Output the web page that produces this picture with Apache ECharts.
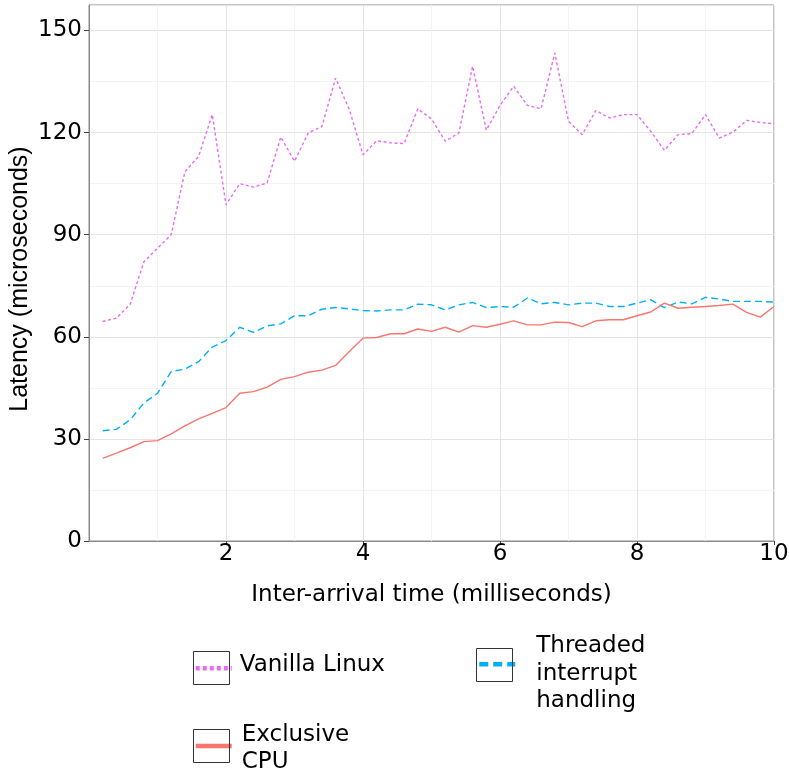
<!DOCTYPE html>
<html>
<head>
<meta charset="utf-8">
<script src="https://cdn.jsdelivr.net/npm/echarts@6/dist/echarts.min.js"></script>
<style>html,body{margin:0;padding:0;background:#fff;}#c{width:789px;height:769px;}</style>
</head>
<body>
<div id="c"></div>
<script>
const xValues = [0.2,0.4,0.6,0.8,1.0,1.2,1.4,1.6,1.8,2.0,2.2,2.4,2.6,2.8,3.0,3.2,3.4,3.6,3.8,4.0,4.2,4.4,4.6,4.8,5.0,5.2,5.4,5.6,5.8,6.0,6.2,6.4,6.6,6.8,7.0,7.2,7.4,7.6,7.8,8.0,8.2,8.4,8.6,8.8,9.0,9.2,9.4,9.6,9.8,10.0];
const vanillaLinux = [64.5,65.5,69.5,82,86,90,108.5,113,125.3,98.8,105,104,105.2,118.7,111.6,119.9,121.8,136,126.8,113.5,117.6,117,116.8,127,124,117.5,119.9,139.5,120.7,128,133.6,128,127,143.4,123.3,119.4,126.5,124.3,125.3,125.3,120.4,114.8,119.4,119.7,125.3,118.4,120.1,123.6,123,122.6];
const threadedIrq = [32.4,32.8,35.6,40.5,43.4,49.8,50.5,52.7,57,58.9,62.8,61.3,63.2,63.8,66.2,66.2,68.1,68.6,68.2,67.7,67.6,67.9,67.9,69.6,69.4,67.9,69.4,70.1,68.6,68.9,68.7,71.4,69.7,70.1,69.4,69.9,69.9,68.9,68.9,69.9,70.9,68.6,70.2,69.7,71.6,71.1,70.4,70.4,70.4,70.2];
const exclusiveCpu = [24.3,25.8,27.4,29.2,29.5,31.5,33.8,35.9,37.5,39.2,43.4,43.9,45.2,47.5,48.3,49.6,50.2,51.6,55.7,59.6,59.8,60.9,60.9,62.3,61.6,62.8,61.4,63.3,62.8,63.7,64.7,63.5,63.5,64.3,64.2,63.0,64.7,65.0,65.0,66.2,67.3,69.9,68.4,68.7,68.9,69.2,69.6,67.2,65.8,68.9];
const seriesNames = ['Vanilla Linux', 'Threaded interrupt handling', 'Exclusive CPU'];
const legendLines = [['Vanilla Linux'], ['Threaded', 'interrupt', 'handling'], ['Exclusive', 'CPU']];
const xTitle = 'Inter-arrival time (milliseconds)';
const yTitle = 'Latency (microseconds)';

const FONT = 'DejaVu Sans';
const pairs = ys => xValues.map((x, i) => [x, ys[i]]);

const chart = echarts.init(document.getElementById('c'), null, {renderer: 'canvas'});

function legendCfg(idx, left, top, dash, gap, pad) {
  return {
    data: [seriesNames[idx]], left: left, top: top, padding: 0, orient: 'vertical',
    selectedMode: false, itemWidth: 36, itemHeight: 33,
    itemStyle: {opacity: 0},
    lineStyle: {width: 4.5, type: dash},
    formatter: () => (gap ? '{g| }\n' : '') + legendLines[idx].map(s => '{t|' + s + '}').join('\n'),
    textStyle: {
      fontFamily: FONT, fontSize: 23, color: '#000', lineHeight: 27.5, padding: pad,
      rich: {
        t: {fontFamily: FONT, fontSize: 23, color: '#000', lineHeight: 27.5},
        g: {fontSize: 1, lineHeight: gap || 1, height: gap || 1}
      }
    }
  };
}

const boxStyle = {fill: 'none', stroke: '#333', lineWidth: 1};

chart.setOption({
  backgroundColor: '#fff',
  animation: false,
  grid: {left: 89, top: 5, right: 15, bottom: 228, show: true, borderColor: '#8a8a8a', borderWidth: 1, backgroundColor: '#fff', containLabel: false, outerBoundsMode: 'none'},
  xAxis: {
    type: 'value', min: 0, max: 10, interval: 2,
    name: xTitle, nameLocation: 'middle', nameGap: 43, nameMoveOverlap: false,
    nameTextStyle: {fontFamily: FONT, fontSize: 23, color: '#000'},
    axisLine: {show: true, onZero: false, lineStyle: {color: '#8a8a8a'}},
    axisTick: {show: true, length: 4, lineStyle: {color: '#444'}},
    axisLabel: {fontFamily: FONT, fontSize: 23, color: '#000', margin: 2, showMinLabel: false},
    splitLine: {show: true, lineStyle: {color: '#e4e4e4', width: 1}},
    minorTick: {show: false, splitNumber: 2},
    minorSplitLine: {show: true, lineStyle: {color: '#f3f3f3', width: 1}}
  },
  yAxis: {
    type: 'value', min: 0, max: 157.5, interval: 30,
    name: yTitle, nameLocation: 'middle', nameGap: 56, nameMoveOverlap: false,
    nameTextStyle: {fontFamily: 'Liberation Sans', fontSize: 25, color: '#000', padding: [0, 12, 0, 0]},
    axisLine: {show: true, lineStyle: {color: '#8a8a8a'}},
    axisTick: {show: true, length: 5, lineStyle: {color: '#444'}},
    axisLabel: {fontFamily: FONT, fontSize: 23, color: '#000', margin: 7, showMaxLabel: false},
    splitLine: {show: true, lineStyle: {color: '#e4e4e4', width: 1}},
    minorTick: {show: false, splitNumber: 2},
    minorSplitLine: {show: true, lineStyle: {color: '#f3f3f3', width: 1}}
  },
  legend: [
    legendCfg(0, 193.5, 647.5, [4, 3], 0, [4, 0, 10, 3]),
    legendCfg(1, 477, 613.5, [9, 5], 19, [0, 0, 0, 16]),
    legendCfg(2, 193.5, 716, 'solid', 5, [0, 0, 0, 5])
  ],
  graphic: [
    {type: 'rect', shape: {x: 193.5, y: 651.5, width: 36, height: 33}, style: boxStyle, z: 200, silent: true},
    {type: 'rect', shape: {x: 476.5, y: 648.5, width: 36, height: 33}, style: boxStyle, z: 200, silent: true},
    {type: 'rect', shape: {x: 193.5, y: 729.5, width: 36, height: 33}, style: boxStyle, z: 200, silent: true}
  ],
  series: [
    {name: seriesNames[0], type: 'line', data: pairs(vanillaLinux), symbol: 'none', lineStyle: {color: '#E76BF3', width: 1.4, type: [3, 2.5]}, itemStyle: {color: '#E76BF3'}},
    {name: seriesNames[1], type: 'line', data: pairs(threadedIrq), symbol: 'none', lineStyle: {color: '#00B0F6', width: 1.4, type: [7, 4]}, itemStyle: {color: '#00B0F6'}},
    {name: seriesNames[2], type: 'line', data: pairs(exclusiveCpu), symbol: 'none', lineStyle: {color: '#F8766D', width: 1.4, type: 'solid'}, itemStyle: {color: '#F8766D'}}
  ]
});
</script>
</body>
</html>
